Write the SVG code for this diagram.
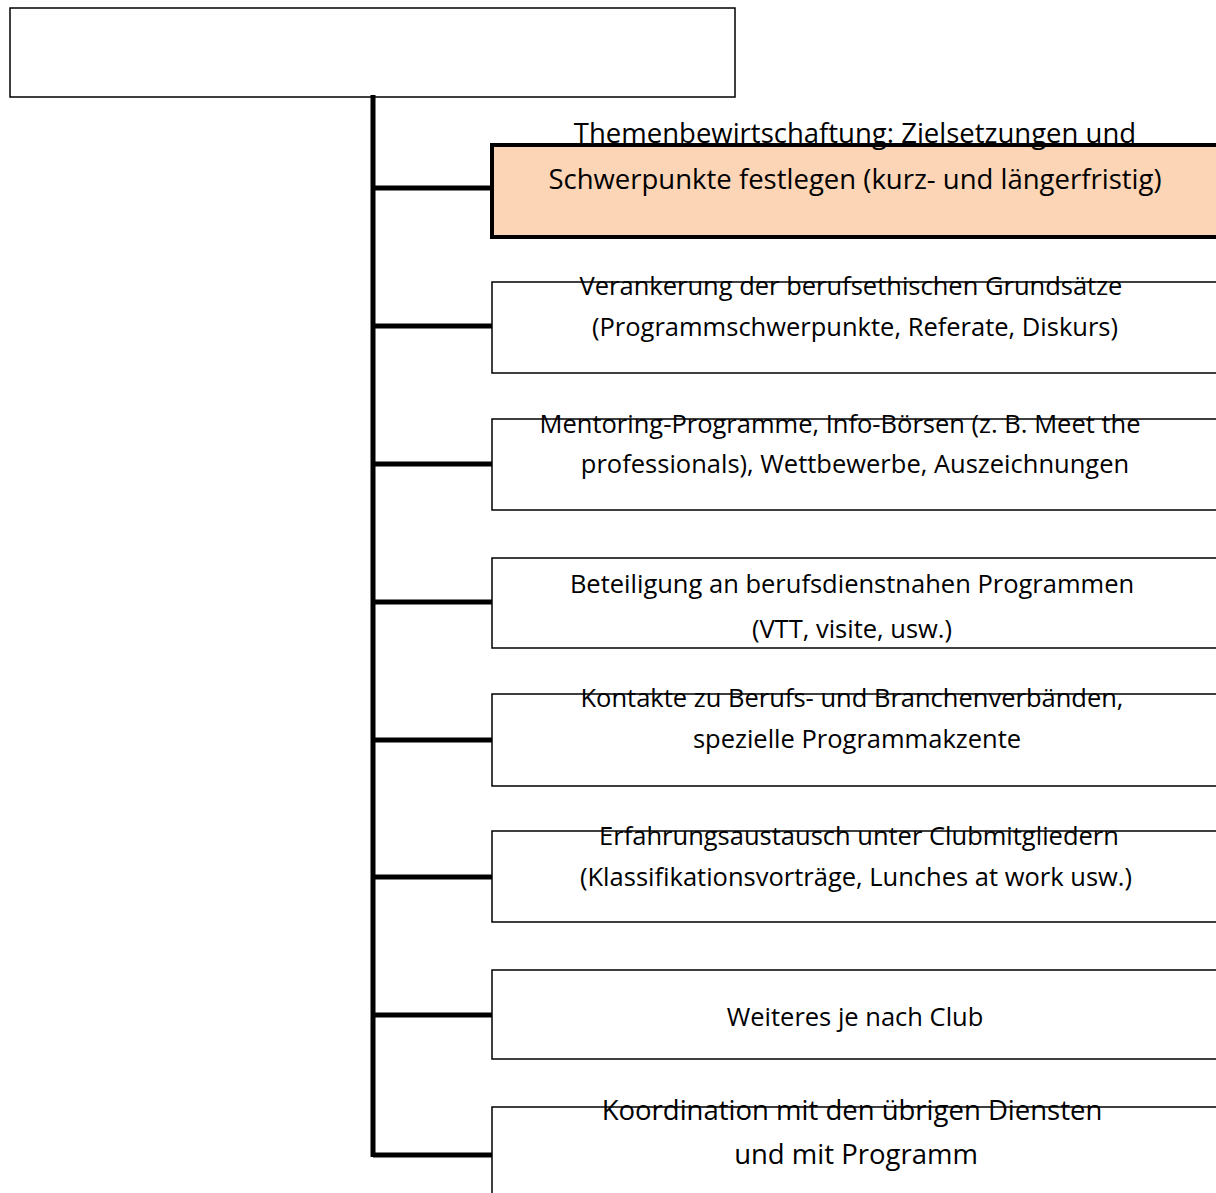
<svg xmlns="http://www.w3.org/2000/svg" width="1216" height="1193" viewBox="0 0 1216 1193">
<style>
.box{fill:#fff;stroke:#000;stroke-width:1.5}
.hl{fill:#FBD5B5;stroke:#000;stroke-width:4}
.t{font-family:"Open Sans","Liberation Sans",sans-serif;font-size:25.5px;fill:#000;text-anchor:middle;dominant-baseline:central}
.tb{font-size:27.5px}
.c{stroke:#000;stroke-width:5;fill:none}
</style>
<rect width="1216" height="1193" fill="#fff"/>
<g id="root"><rect class="box" x="10" y="8" width="725" height="89"/></g>
<g id="connectors">
<path class="c" d="M373 95 V1157"/>
<path class="c" d="M373 188 H493 M373 326 H493 M373 464 H493 M373 602 H493 M373 740 H493 M373 877 H493 M373 1015 H493 M373 1155 H493"/>
</g>
<g id="n1"><rect class="hl" x="492" y="145" width="730" height="92"/>
<text class="t tb" x="855" y="132">Themenbewirtschaftung: Zielsetzungen und</text>
<text class="t tb" x="855" y="178">Schwerpunkte festlegen (kurz- und längerfristig)</text></g>
<g id="n2"><rect class="box" x="492" y="282" width="730" height="91"/>
<text class="t" x="851" y="285">Verankerung der berufsethischen Grundsätze</text>
<text class="t" x="855" y="326">(Programmschwerpunkte, Referate, Diskurs)</text></g>
<g id="n3"><rect class="box" x="492" y="419" width="730" height="91"/>
<text class="t" x="840" y="423">Mentoring-Programme, Info-Börsen (z. B. Meet the</text>
<text class="t" x="855" y="463">professionals), Wettbewerbe, Auszeichnungen</text></g>
<g id="n4"><rect class="box" x="492" y="558" width="730" height="90"/>
<text class="t" x="852" y="583">Beteiligung an berufsdienstnahen Programmen</text>
<text class="t" x="852" y="628">(VTT, visite, usw.)</text></g>
<g id="n5"><rect class="box" x="492" y="694" width="730" height="92"/>
<text class="t" x="852" y="697">Kontakte zu Berufs- und Branchenverbänden,</text>
<text class="t" x="857" y="738">spezielle Programmakzente</text></g>
<g id="n6"><rect class="box" x="492" y="831" width="730" height="91"/>
<text class="t" x="859" y="835">Erfahrungsaustausch unter Clubmitgliedern</text>
<text class="t" x="856" y="876">(Klassifikationsvorträge, Lunches at work usw.)</text></g>
<g id="n7"><rect class="box" x="492" y="970" width="730" height="89"/>
<text class="t" x="855" y="1016">Weiteres je nach Club</text></g>
<g id="n8"><rect class="box" x="492" y="1107" width="730" height="100"/>
<text class="t tb" x="852" y="1109">Koordination mit den übrigen Diensten</text>
<text class="t tb" x="856" y="1153">und mit Programm</text></g>
</svg>
